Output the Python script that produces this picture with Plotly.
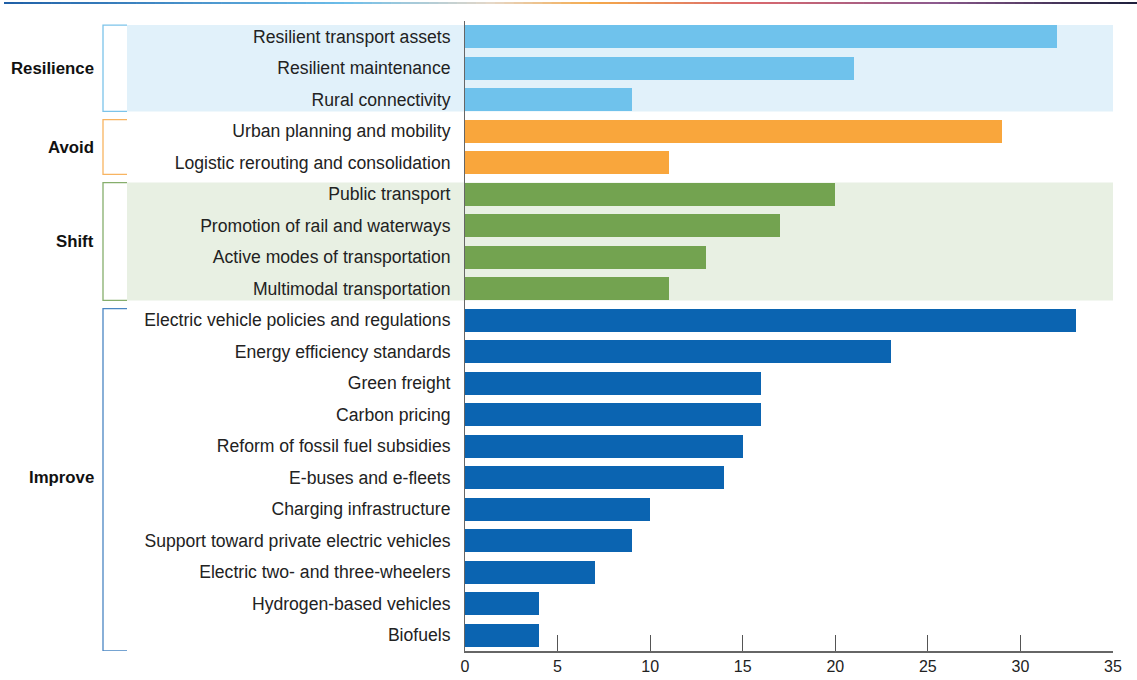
import plotly.graph_objects as go

# Measures, top to bottom, with their group and value
categories = [
    "Resilient transport assets", "Resilient maintenance", "Rural connectivity",
    "Urban planning and mobility", "Logistic rerouting and consolidation",
    "Public transport", "Promotion of rail and waterways",
    "Active modes of transportation", "Multimodal transportation",
    "Electric vehicle policies and regulations", "Energy efficiency standards",
    "Green freight", "Carbon pricing", "Reform of fossil fuel subsidies",
    "E-buses and e-fleets", "Charging infrastructure",
    "Support toward private electric vehicles", "Electric two- and three-wheelers",
    "Hydrogen-based vehicles", "Biofuels",
]
values = [32, 21, 9, 29, 11, 20, 17, 13, 11, 33, 23, 16, 16, 15, 14, 10, 9, 7, 4, 4]
groups = ["Resilience", "Avoid", "Shift", "Improve"]
group_sizes = [3, 2, 4, 11]
x_ticks = [0, 5, 10, 15, 20, 25, 30, 35]

bar_colors = {"Resilience": "#6FC2EC", "Avoid": "#F9A63C", "Shift": "#73A350", "Improve": "#0B64B1"}
band_colors = {"Resilience": "#E1F1FA", "Shift": "#E8F0E3"}
bracket_colors = {"Resilience": "#7CC4EA", "Avoid": "#F8B461", "Shift": "#86AE6C", "Improve": "#4A86C3"}

FONT = "Liberation Sans"
HALF = 0.37          # half bar thickness in category units
N = len(categories)

fig = go.Figure()

row_group = []
for g, n in zip(groups, group_sizes):
    row_group += [g] * n

fig.add_trace(go.Bar(
    x=values, y=categories, orientation="h",
    marker=dict(color=[bar_colors[g] for g in row_group], line=dict(width=0)),
    width=2 * HALF, hoverinfo="x+y",
))

shapes, annotations = [], []

# x positions (paper units) of the bracket spine, bracket arms and group labels
px_per_paper = 648.0
BRACKET_X = (103 - 465) / px_per_paper
ARM_X = (127 - 465) / px_per_paper
LABEL_X = (96 - 465) / px_per_paper

start = 0
for g, n in zip(groups, group_sizes):
    first, last = start, start + n - 1
    top = first - HALF
    bottom = (N - 0.5) if last == N - 1 else last + HALF
    if g in band_colors:
        shapes.append(dict(type="rect", xref="paper", yref="y", x0=ARM_X, x1=1.0,
                           y0=top, y1=bottom, fillcolor=band_colors[g],
                           line=dict(width=0), layer="below"))
    col = bracket_colors[g]
    shapes.append(dict(type="path", xref="paper", yref="y",
                       path=f"M {ARM_X} {top} L {BRACKET_X} {top} L {BRACKET_X} {bottom} L {ARM_X} {bottom}",
                       line=dict(color=col, width=1.3), layer="below"))
    annotations.append(dict(xref="paper", yref="y", x=LABEL_X, y=(first + last) / 2,
                            text=f"<b>{g}</b>", showarrow=False, xanchor="right",
                            font=dict(family=FONT, size=16.8, color="#111111")))
    start += n

# thin multicolour rule across the top of the page
stops = [(0.0, (31, 95, 166)), (0.3, (108, 189, 233)), (0.43, (230, 216, 200)),
         (0.52, (245, 169, 74)), (0.66, (217, 104, 110)), (0.82, (142, 90, 142)),
         (1.0, (27, 31, 59))]


def mix(t):
    for (t0, c0), (t1, c1) in zip(stops[:-1], stops[1:]):
        if t0 <= t <= t1:
            f = (t - t0) / (t1 - t0)
            return "rgb(%d,%d,%d)" % tuple(round(a + (b - a) * f) for a, b in zip(c0, c1))
    return "rgb(%d,%d,%d)" % stops[-1][1]


x_left, x_right = (4 - 465) / px_per_paper, (1137 - 465) / px_per_paper
y_rule = (651 - 3) / 630.0
steps = 120
for i in range(steps):
    a = x_left + (x_right - x_left) * i / steps
    b = x_left + (x_right - x_left) * (i + 1) / steps
    shapes.append(dict(type="line", xref="paper", yref="paper", x0=a, x1=b + 0.001,
                       y0=y_rule, y1=y_rule, line=dict(color=mix((i + 0.5) / steps), width=2)))

fig.update_layout(
    width=1137, height=680,
    margin=dict(l=465, r=24, t=21, b=29, autoexpand=False),
    plot_bgcolor="rgba(0,0,0,0)", paper_bgcolor="white",
    showlegend=False, bargap=0,
    shapes=shapes, annotations=annotations,
    font=dict(family=FONT, size=15, color="#222222"),
)
fig.update_xaxes(
    range=[0, 35], tickvals=x_ticks, ticktext=[str(v) for v in x_ticks],
    showgrid=False, zeroline=False, ticks="inside", ticklen=16, tickwidth=1,
    tickcolor="#555555", showline=True, linecolor="#666666", linewidth=1.5,
    tickfont=dict(family=FONT, size=16, color="#222222"), automargin=False,
)
fig.update_yaxes(
    type="category", categoryorder="array", categoryarray=categories,
    range=[N - 0.5, -0.5], showgrid=False, zeroline=False, ticks="",
    showline=True, linecolor="#666666", linewidth=1, ticklabelstandoff=10,
    tickfont=dict(family=FONT, size=17.6, color="#222222"), automargin=False,
)

fig.write_html("out.html")
